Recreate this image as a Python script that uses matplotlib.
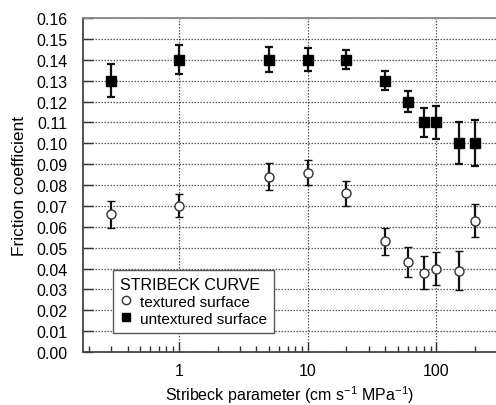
import matplotlib
matplotlib.use('agg')
import matplotlib.pyplot as plt
import numpy as np
from matplotlib.lines import Line2D
from matplotlib.ticker import FixedLocator, NullFormatter, LogLocator

# Stribeck curve data: friction coefficient vs Stribeck parameter
stribeck = [0.3, 1, 5, 10, 20, 40, 60, 80, 100, 150, 200]

mu_textured = [0.066, 0.070, 0.084, 0.086, 0.076, 0.053, 0.043, 0.038, 0.040, 0.039, 0.063]
err_textured = [0.0065, 0.0055, 0.0065, 0.0058, 0.006, 0.0065, 0.0072, 0.008, 0.008, 0.0095, 0.008]

mu_untextured = [0.13, 0.14, 0.14, 0.14, 0.14, 0.13, 0.12, 0.11, 0.11, 0.10, 0.10]
err_untextured = [0.008, 0.007, 0.006, 0.0055, 0.0045, 0.0045, 0.005, 0.007, 0.008, 0.010, 0.011]

ytick_vals = np.round(np.arange(0, 0.161, 0.01), 2)

plt.rcParams['font.family'] = ['Liberation Sans', 'DejaVu Sans']
plt.rcParams['font.size'] = 11.5
plt.rcParams['mathtext.fontset'] = 'custom'
plt.rcParams['mathtext.rm'] = 'Liberation Sans'

fig = plt.figure(figsize=(4.96, 4.06), dpi=100)
ax = fig.add_axes([0.167, 0.1305, 0.833, 0.8225])

ax.errorbar(stribeck, mu_textured, yerr=err_textured, fmt='o', ms=6.5,
            mfc='white', mec='#333333', mew=1.0, ecolor='#111111',
            elinewidth=1.6, capsize=3.2, capthick=1.6, zorder=3)
ax.errorbar(stribeck, mu_untextured, yerr=err_untextured, fmt='s', ms=6.8,
            mfc='black', mec='black', ecolor='#111111',
            elinewidth=1.6, capsize=3.2, capthick=1.6, zorder=3)

ax.set_xscale('log')
ax.set_xlim(0.18, 290)
ax.set_ylim(0, 0.16)
ax.set_yticks(ytick_vals)
ax.set_yticklabels(['%.2f' % v for v in ytick_vals])
ax.xaxis.set_major_locator(FixedLocator([1, 10, 100]))
ax.set_xticklabels(['1', '10', '100'])
ax.xaxis.set_minor_locator(LogLocator(base=10, subs=np.arange(2, 10)))
ax.xaxis.set_minor_formatter(NullFormatter())

ax.grid(True, which='major', linestyle=(0, (1.2, 1.2)), color='#555555', linewidth=0.9)
ax.tick_params(axis='x', which='major', direction='in', length=7, width=1.0,
               colors='#333333', labelcolor='black', pad=8)
ax.tick_params(axis='x', which='minor', direction='in', length=4, width=1.0, colors='#333333')
ax.tick_params(axis='y', which='major', direction='in', length=7, width=1.0,
               colors='#333333', labelcolor='black', pad=11)

for side in ['left', 'bottom']:
    ax.spines[side].set_color('#444444')
    ax.spines[side].set_linewidth(1.3)
ax.spines['top'].set_color('#888888')
ax.spines['top'].set_linewidth(1.3)
ax.spines['right'].set_visible(False)

ax.set_xlabel('Stribeck parameter (cm s$^{\\mathrm{-1}}$ MPa$^{\\mathrm{-1}}$)', labelpad=3.5)
ax.set_ylabel('Friction coefficient', labelpad=7, fontsize=12.5)

# legend shows markers only, no error bars
handles = [
    Line2D([], [], linestyle='none', marker='o', ms=6, mfc='white', mec='#333333', mew=1.0),
    Line2D([], [], linestyle='none', marker='s', ms=6, mfc='black', mec='black'),
]
leg = ax.legend(handles, ['textured surface', 'untextured surface'],
                loc='lower left', bbox_to_anchor=(0.055, 0.035), title='STRIBECK CURVE',
                frameon=True, fancybox=False, edgecolor='#555555', framealpha=1,
                handlelength=0.8, handletextpad=0.5, borderpad=0.45, labelspacing=0.2,
                fontsize=11)
leg.get_frame().set_linewidth(1.0)
leg._legend_box.align = 'left'
leg.get_title().set_fontsize(11.5)

fig.savefig('out.png', dpi=100)
